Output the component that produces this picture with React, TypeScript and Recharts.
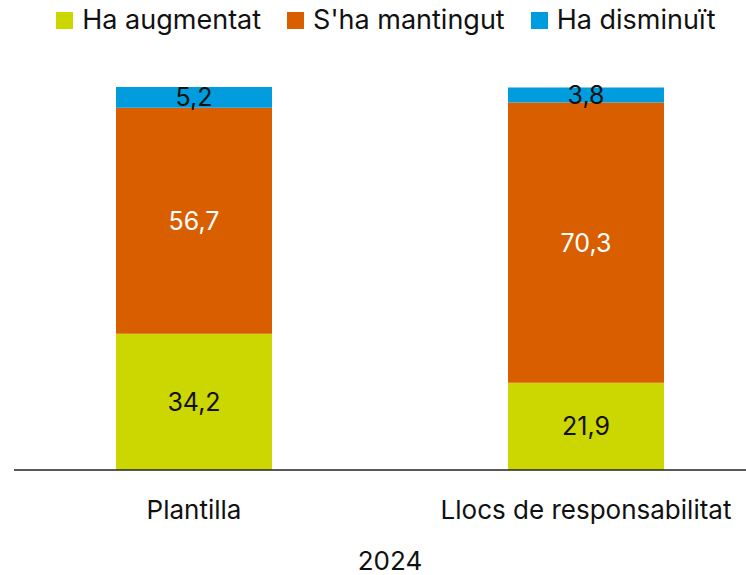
import { BarChart, Bar, XAxis, YAxis, Legend, LabelList } from "recharts";

const categories = ["Plantilla", "Llocs de responsabilitat"];
const augmentat = [34.2, 21.9];
const mantingut = [56.7, 70.3];
const disminuit = [5.2, 3.8];
const yearLabel = "2024";

const SERIES = [
  { key: "augmentat", name: "Ha augmentat", color: "#CCD600", label: "#111" },
  { key: "mantingut", name: "S'ha mantingut", color: "#D95E00", label: "#fff" },
  { key: "disminuit", name: "Ha disminuït", color: "#009CDD", label: "#111" },
];

const data = categories.map((name, i) => ({
  name,
  augmentat: augmentat[i],
  mantingut: mantingut[i],
  disminuit: disminuit[i],
}));

const FONT = "Inter, 'Noto Sans', sans-serif";
const fmt = (v: number) => v.toFixed(1).replace(".", ",");

function LegendContent() {
  return (
    <div
      style={{
        display: "flex",
        justifyContent: "center",
        gap: 26,
        paddingLeft: 26,
        fontFamily: FONT,
        fontSize: 27,
        lineHeight: "30px",
        color: "#111",
      }}
    >
      {SERIES.map((s) => (
        <div key={s.key} style={{ display: "flex", alignItems: "center", gap: 9 }}>
          <span style={{ width: 17, height: 17, background: s.color, display: "inline-block" }} />
          <span>{s.name}</span>
        </div>
      ))}
    </div>
  );
}

export default function App() {
  return (
    <div style={{ position: "absolute", left: 0, top: 0, width: 746, height: 575, background: "#fff", overflow: "hidden" }}>
      <BarChart
        width={746}
        height={575}
        data={data}
        margin={{ top: 57, right: 0, left: 14, bottom: 75 }}
        style={{ fontFamily: FONT }}
      >
        <Legend
          verticalAlign="top"
          content={<LegendContent />}
          wrapperStyle={{ position: "absolute", top: 5, left: 0, width: 746, height: 30 }}
        />
        <YAxis hide domain={[0, "dataMax"]} />
        <XAxis
          dataKey="name"
          padding={{ left: -16, right: -36 }}
          axisLine={{ stroke: "#222", strokeWidth: 1.5 }}
          tickLine={false}
          tickMargin={25}
          tick={{ fontSize: 26, fill: "#111", fontFamily: FONT }}
          label={{ value: yearLabel, position: "insideBottom", offset: -70, dx: 10, fontSize: 26, fill: "#111", fontFamily: FONT }}
        />
        {SERIES.map((s) => (
          <Bar key={s.key} dataKey={s.key} name={s.name} stackId="a" fill={s.color} barSize={156} isAnimationActive={false}>
            <LabelList dataKey={s.key} position="center" formatter={(v: any) => fmt(Number(v))} fill={s.label} fontSize={25} fontFamily={FONT} />
          </Bar>
        ))}
      </BarChart>
    </div>
  );
}
